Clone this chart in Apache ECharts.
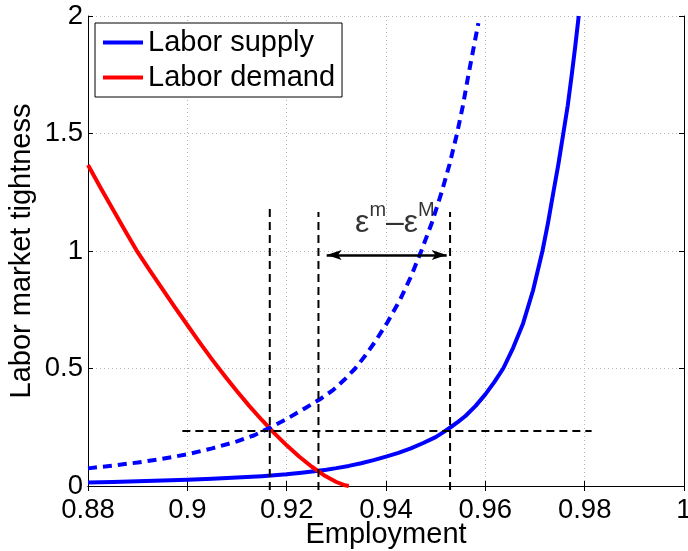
<!DOCTYPE html>
<html>
<head>
<meta charset="utf-8">
<script src="https://cdn.jsdelivr.net/npm/echarts@6/dist/echarts.min.js"></script>
<style>
html,body{margin:0;padding:0;background:#fff;}
#chart{width:688px;height:551px;}
</style>
</head>
<body>
<div id="chart"></div>
<script>
// ---- data ----
var xTickLabels = ['0.88', '0.9', '0.92', '0.94', '0.96', '0.98', '1'];
var yTickLabels = ['0', '0.5', '1', '1.5', '2'];

var supplyX = [0.880, 0.885, 0.890, 0.895, 0.900, 0.905, 0.910, 0.915, 0.920, 0.923, 0.926, 0.928, 0.930, 0.9325, 0.935, 0.9375, 0.940, 0.9425, 0.945, 0.9475, 0.950, 0.9515, 0.953, 0.9545, 0.956, 0.958, 0.960, 0.9618, 0.9636, 0.9656, 0.9676, 0.9696, 0.9715, 0.9726, 0.9737, 0.9747, 0.9757, 0.9766, 0.9774, 0.9781, 0.9788];
var supplyY = [0.015, 0.0172, 0.020, 0.0232, 0.027, 0.031, 0.036, 0.042, 0.050, 0.0565, 0.064, 0.0695, 0.076, 0.0855, 0.097, 0.110, 0.125, 0.141, 0.160, 0.183, 0.208, 0.228, 0.250, 0.273, 0.298, 0.340, 0.390, 0.442, 0.50, 0.588, 0.692, 0.832, 1.0, 1.118, 1.25, 1.369, 1.5, 1.62, 1.75, 1.87, 2.0];

var demandX = [0.880, 0.8825, 0.885, 0.8875, 0.890, 0.8925, 0.895, 0.8975, 0.900, 0.9025, 0.905, 0.9075, 0.910, 0.9125, 0.915, 0.9175, 0.920, 0.9225, 0.925, 0.9275, 0.930, 0.9315, 0.9325];
var demandY = [1.366, 1.27, 1.178, 1.085, 0.995, 0.915, 0.838, 0.76, 0.685, 0.61, 0.538, 0.469, 0.403, 0.340, 0.281, 0.225, 0.173, 0.1255, 0.083, 0.046, 0.017, 0.0045, 0.0];

var shiftedX = [0.880, 0.885, 0.890, 0.895, 0.900, 0.905, 0.910, 0.9135, 0.9166, 0.920, 0.9237, 0.9267, 0.9294, 0.9316, 0.9338, 0.9358, 0.9378, 0.9403, 0.9428, 0.9450, 0.9471, 0.9492, 0.9512, 0.9528, 0.9543, 0.9555, 0.9566, 0.9576, 0.9586];
var shiftedY = [0.075, 0.087, 0.100, 0.116, 0.135, 0.160, 0.190, 0.216, 0.248, 0.285, 0.331, 0.369, 0.409, 0.452, 0.50, 0.554, 0.614, 0.697, 0.791, 0.890, 1.00, 1.118, 1.25, 1.369, 1.50, 1.62, 1.75, 1.86, 1.97];

var refV1X = [0.9166, 0.9166], refV1Y = [-0.017, 1.18];
var refV2X = [0.9264, 0.9264], refV2Y = [-0.017, 1.166];
var refV3X = [0.9529, 0.9529], refV3Y = [-0.017, 1.166];
var refHX = [0.899, 0.9814], refHY = [0.234, 0.234];

var arrowX = [0.92806, 0.95222], arrowY = [0.983, 0.983];
var annotX = [0.9418], annotY = [1.132];

function pairs(xs, ys) { return xs.map(function (x, i) { return [x, ys[i]]; }); }

var FONT = '"Liberation Sans", Arial, Helvetica, sans-serif';
var gridLine = { show: true, lineStyle: { color: '#b5b5b5', width: 1, type: [1, 3] } };
var blackLine = { show: true, lineStyle: { color: '#000', width: 1 } };
var inTick = { show: true, inside: true, length: 5, lineStyle: { color: '#000', width: 1 } };

function refSeries(xs, ys) {
  return {
    type: 'line', data: pairs(xs, ys), symbol: 'none', silent: true, clip: false, z: 5,
    lineStyle: { color: '#000', width: 2, type: [8, 5] }
  };
}

var chart = echarts.init(document.getElementById('chart'), null, { renderer: 'canvas' });
chart.setOption({
  animation: false,
  backgroundColor: '#fff',
  textStyle: { fontFamily: FONT },
  grid: { left: 88, right: 4, top: 16, bottom: 65, containLabel: false, outerBoundsMode: 'none' },
  legend: {
    data: [{ name: 'Labor supply', icon: 'rect' }, { name: 'Labor demand', icon: 'rect' }],
    orient: 'vertical', left: 95, top: 23, align: 'left',
    backgroundColor: '#fff', borderColor: '#000', borderWidth: 1,
    padding: [5, 7, 5, 8], itemGap: 6, itemWidth: 40, itemHeight: 4,
    textStyle: { fontFamily: FONT, fontSize: 29, color: '#000' },
    selectedMode: false
  },
  xAxis: [{
    type: 'value', min: 0.88, max: 1.0, interval: 0.02, position: 'bottom',
    axisLine: blackLine, axisTick: inTick, splitLine: gridLine,
    axisLabel: {
      fontFamily: FONT, fontSize: 27.5, color: '#000', margin: 10,
      formatter: function (v) { return xTickLabels[Math.round((v - 0.88) / 0.02)]; }
    },
    name: 'Employment', nameLocation: 'middle', nameGap: 34, nameMoveOverlap: false,
    nameTextStyle: { fontFamily: FONT, fontSize: 29, color: '#000' }
  }, {
    type: 'value', min: 0.88, max: 1.0, interval: 0.02, position: 'top',
    axisLine: blackLine, axisTick: inTick, splitLine: { show: false }, axisLabel: { show: false }
  }],
  yAxis: [{
    type: 'value', min: 0, max: 2, interval: 0.5, position: 'left',
    axisLine: blackLine, axisTick: inTick, splitLine: gridLine,
    axisLabel: {
      fontFamily: FONT, fontSize: 27.5, color: '#000', margin: 5,
      formatter: function (v) { return yTickLabels[Math.round(v / 0.5)]; }
    },
    name: 'Labor market tightness', nameLocation: 'middle', nameGap: 52, nameMoveOverlap: false,
    nameTextStyle: { fontFamily: FONT, fontSize: 29, color: '#000' }
  }, {
    type: 'value', min: 0, max: 2, interval: 0.5, position: 'right',
    axisLine: blackLine, axisTick: inTick, splitLine: { show: false }, axisLabel: { show: false }
  }],
  series: [
    {
      name: 'Labor supply', type: 'line', data: pairs(supplyX, supplyY), symbol: 'none', z: 3,
      lineStyle: { color: '#0000ff', width: 4, join: 'round' }, itemStyle: { color: '#0000ff' }
    },
    {
      name: 'Labor demand', type: 'line', data: pairs(demandX, demandY), symbol: 'none', z: 3,
      lineStyle: { color: '#ff0000', width: 4, join: 'round' }, itemStyle: { color: '#ff0000' }
    },
    {
      name: 'shifted', type: 'line', data: pairs(shiftedX, shiftedY), symbol: 'none', z: 3,
      lineStyle: { color: '#0000ff', width: 4, type: [9, 6], join: 'round' }
    },
    refSeries(refV1X, refV1Y),
    refSeries(refV2X, refV2Y),
    refSeries(refV3X, refV3Y),
    refSeries(refHX, refHY),
    {
      type: 'scatter', data: pairs(annotX, annotY), symbolSize: 1, silent: true, z: 6,
      itemStyle: { color: 'rgba(0,0,0,0)' },
      label: {
        show: true, position: 'inside', color: '#000',
        formatter: '{e|ε}{s|m}{e|–ε}{s|M}',
        rich: {
          e: { fontFamily: FONT, fontSize: 32, lineHeight: 38, verticalAlign: 'bottom', color: '#000' },
          s: { fontFamily: FONT, fontSize: 20, lineHeight: 16, verticalAlign: 'top', color: '#000' }
        }
      },
      markLine: {
        silent: true, animation: false,
        symbol: ['arrow', 'arrow'], symbolSize: [7.5, 15],
        label: { show: false },
        lineStyle: { color: '#000', width: 2.5, type: 'solid' },
        emphasis: { disabled: true },
        data: [[{ coord: [arrowX[0], arrowY[0]] }, { coord: [arrowX[1], arrowY[1]] }]]
      }
    }
  ]
});
</script>
</body>
</html>
